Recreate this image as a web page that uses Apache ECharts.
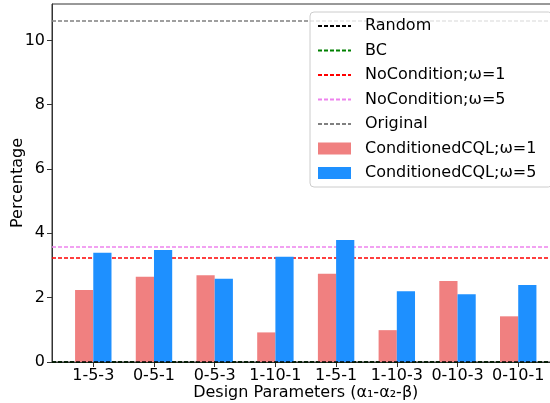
<!DOCTYPE html>
<html>
<head>
<meta charset="utf-8">
<script src="https://cdn.jsdelivr.net/npm/echarts@6/dist/echarts.min.js"></script>
<style>html,body{margin:0;padding:0;background:#fff}#c{width:550px;height:403px}</style>
</head>
<body>
<div id="c"></div>
<script>
const categories = ['1-5-3','0-5-1','0-5-3','1-10-1','1-5-1','1-10-3','0-10-3','0-10-1'];
const cqlW1 = [2.24, 2.65, 2.70, 0.92, 2.74, 0.99, 2.52, 1.42];
const cqlW5 = [3.40, 3.48, 2.59, 3.27, 3.79, 2.20, 2.11, 2.39];
const refNames = ['Random','BC','NoCondition;ω=1','NoCondition;ω=5','Original'];
const refValues = [0, 0, 3.25, 3.59, 10.6];
const refColors = ['#000000','#008000','#ff0000','#ee82ee','#808080'];
const yTicks = [0, 2, 4, 6, 8, 10];

const FONT = 'DejaVu Sans';
const chart = echarts.init(document.getElementById('c'), null, {renderer:'canvas'});

const lineZ = [4, 1, 2, 2, 2];
const lineSeries = refNames.map((n, i) => ({
  name: n, type: 'line', data: [], symbol: 'none', showSymbol: false,
  color: refColors[i],
  lineStyle: {color: refColors[i], type: [4, 2], width: 1.2},
  itemStyle: {color: refColors[i]},
  z: lineZ[i],
  markLine: {
    silent: true, symbol: 'none', label: {show: false},
    lineStyle: {color: refColors[i], type: [4, 2], width: 1.5, opacity: 1},
    data: [{yAxis: refValues[i], lineStyle: {color: refColors[i]}}],
    z: lineZ[i]
  }
}));

const xs = categories.map((c, i) => i);

chart.setOption({
  animation: false,
  grid: {left: 52, top: 4, width: 507.5, height: 358, outerBoundsMode: 'none', containLabel: false,
    show: true, borderColor: '#333', borderWidth: 1, backgroundColor: 'transparent'},
  xAxis: {
    type: 'value', min: -0.68, max: 7.68,
    name: 'Design Parameters (α₁-α₂-β)', nameLocation: 'middle', nameGap: 23, nameMoveOverlap: false,
    nameTextStyle: {fontFamily: FONT, fontSize: 16, color: '#000'},
    axisLine: {show: true, onZero: false, lineStyle: {color: '#333', width: 1}},
    axisTick: {show: true, length: 5, lineStyle: {color: '#333'}, customValues: xs},
    axisLabel: {fontFamily: FONT, fontSize: 16, color: '#000', margin: 6, customValues: xs,
      formatter: v => categories[Math.round(v)] || ''},
    splitLine: {show: false}
  },
  yAxis: {
    type: 'value', min: 0, max: 11.13,
    name: 'Percentage', nameLocation: 'middle', nameGap: 26, nameMoveOverlap: false,
    nameTextStyle: {fontFamily: FONT, fontSize: 16, color: '#000'},
    axisLine: {show: true, onZero: false, lineStyle: {color: '#333', width: 1}},
    axisTick: {show: true, length: 5, lineStyle: {color: '#333'}, customValues: yTicks},
    axisLabel: {fontFamily: FONT, fontSize: 16, color: '#000', margin: 7, customValues: yTicks},
    splitLine: {show: false}
  },
  legend: {
    orient: 'vertical', left: 310, top: 12, padding: [6, 16, 6, 7],
    itemWidth: 33, itemHeight: 12, itemGap: 8.5,
    backgroundColor: 'rgba(255,255,255,0.8)', borderColor: '#cccccc', borderWidth: 1, borderRadius: 4,
    textStyle: {fontFamily: FONT, fontSize: 16, color: '#000', padding: [0, 0, 0, 9]},
    data: refNames.map(n => ({name: n, itemStyle: {opacity: 0}})).concat([
      {name: 'ConditionedCQL;ω=1', icon: 'rect'},
      {name: 'ConditionedCQL;ω=5', icon: 'rect'}
    ]),
    z: 10
  },
  series: lineSeries.concat([
    {name: 'ConditionedCQL;ω=1', type: 'bar', data: cqlW1.map((v, i) => [xs[i], v]),
      barWidth: '30%', barGap: '0%', itemStyle: {color: '#f08080'}, z: 3},
    {name: 'ConditionedCQL;ω=5', type: 'bar', data: cqlW5.map((v, i) => [xs[i], v]),
      barWidth: '30%', barGap: '0%', itemStyle: {color: '#1e90ff'}, z: 3}
  ])
});
</script>
</body>
</html>
